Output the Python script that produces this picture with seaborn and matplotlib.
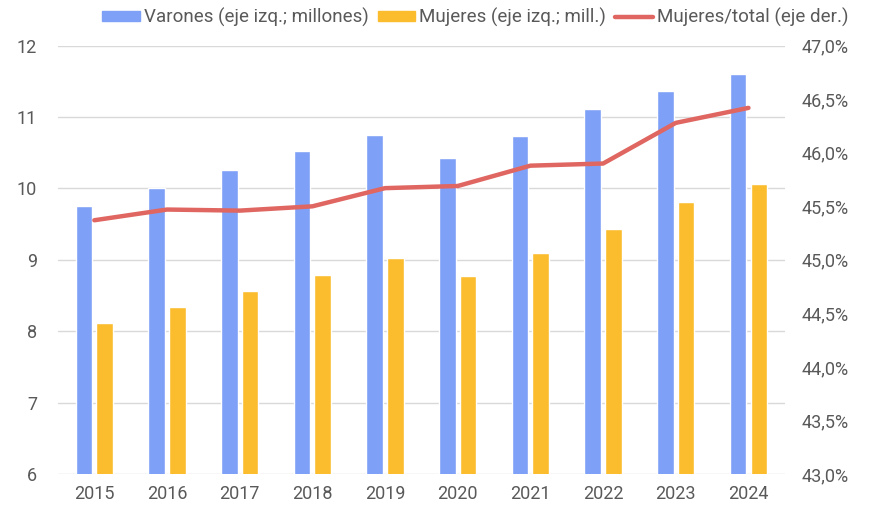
import pandas as pd
import matplotlib.pyplot as plt
import matplotlib.ticker as ticker
import seaborn as sns

years = ["2015", "2016", "2017", "2018", "2019", "2020", "2021", "2022", "2023", "2024"]
varones = [9.76, 10.00, 10.26, 10.53, 10.75, 10.43, 10.74, 11.11, 11.37, 11.60]
mujeres = [8.12, 8.34, 8.56, 8.79, 9.03, 8.77, 9.10, 9.43, 9.81, 10.06]
ratio = [45.37, 45.47, 45.46, 45.50, 45.67, 45.69, 45.88, 45.90, 46.28, 46.42]

lbl_v = "Varones (eje izq.; millones)"
lbl_m = "Mujeres (eje izq.; mill.)"
lbl_r = "Mujeres/total (eje der.)"

BLUE = "#7fa0f7"
YELLOW = "#fbbc2e"
RED = "#e06661"
TXT = "#595959"


def main():
    sns.set_style("white")
    plt.rcParams["font.family"] = ["Roboto", "DejaVu Sans"]

    df = pd.DataFrame({"year": years * 2,
                       "value": varones + mujeres,
                       "serie": [lbl_v] * len(years) + [lbl_m] * len(years)})

    fig = plt.figure(figsize=(8.72, 5.09), dpi=100)
    ax = fig.add_axes([0.0665, 0.069, 0.8335, 0.841])

    sns.barplot(data=df, x="year", y="value", hue="serie", palette=[BLUE, YELLOW],
                width=0.57, gap=0.2, ax=ax, legend=False, saturation=1)
    ax.set_ylim(6, 12)
    ax.set_xlim(-0.5, len(years) - 0.5)
    ax.yaxis.set_major_locator(ticker.MultipleLocator(1))
    ax.grid(axis="y", color="#d9d9d9", lw=1)
    ax.set_axisbelow(True)
    ax.set_xlabel("")
    ax.set_ylabel("")
    ax.tick_params(length=0, labelsize=13, colors=TXT)
    ax.tick_params(axis="y", pad=15)
    ax.tick_params(axis="x", pad=8)
    for s in ax.spines.values():
        s.set_visible(False)

    ax2 = ax.twinx()
    sns.lineplot(x=list(range(len(years))), y=ratio, color=RED, lw=3.2, ax=ax2)
    ax2.set_ylim(43, 47)
    ax2.yaxis.set_major_locator(ticker.MultipleLocator(0.5))
    ax2.yaxis.set_major_formatter(lambda v, pos: f"{v:.1f}%".replace(".", ","))
    ax2.tick_params(length=0, labelsize=13, colors=TXT, pad=12)
    ax2.grid(False)
    for s in ax2.spines.values():
        s.set_visible(False)

    handles = [plt.Rectangle((0, 0), 1, 1, color=BLUE),
               plt.Rectangle((0, 0), 1, 1, color=YELLOW),
               plt.Line2D([0], [0], color=RED, lw=3.2)]
    fig.legend(handles, [lbl_v, lbl_m, lbl_r], loc="center", bbox_to_anchor=(0.545, 0.966),
               ncol=3, frameon=False, fontsize=13.5, labelcolor=TXT,
               handlelength=2.0, handleheight=0.45, handletextpad=0.2, columnspacing=0.5)

    plt.savefig("out.png", dpi=100)


if __name__ == "__main__":
    main()
